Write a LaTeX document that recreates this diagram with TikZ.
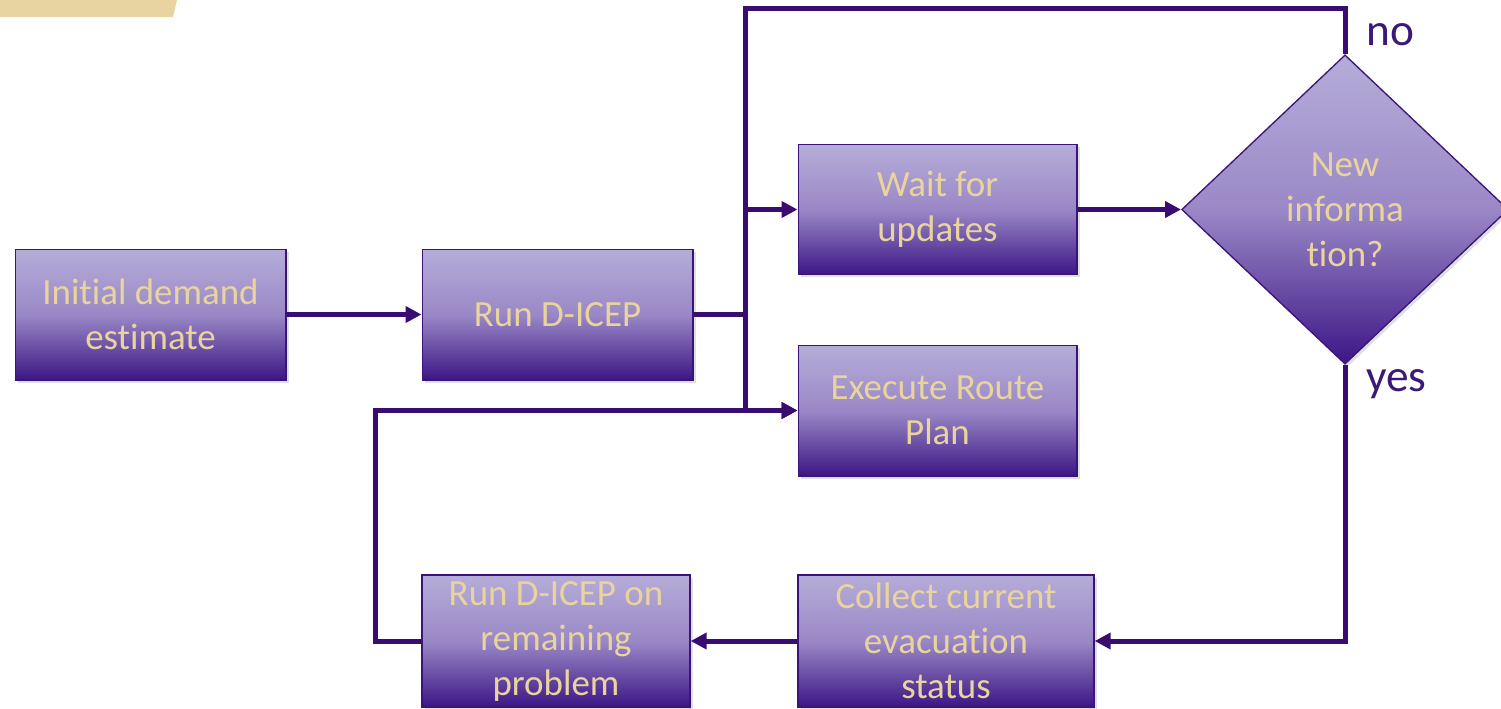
\documentclass[tikz,border=0pt]{standalone}
\usepackage{fontspec}
\setmainfont{Carlito}[RawFeature={-liga;-clig;-calt;-dlig;-rlig}]
\usetikzlibrary{shapes.geometric,arrows.meta,shadows}

\definecolor{boxtop}{HTML}{B5ADD9}
\definecolor{boxmid}{HTML}{9A88C6}
\definecolor{boxbot}{HTML}{3C1686}
\definecolor{boxline}{HTML}{3A1478}
\definecolor{flow}{HTML}{380C70}
\definecolor{gold}{HTML}{E9D49E}
\definecolor{tab}{HTML}{E8D4A0}
\definecolor{labelc}{HTML}{3A1A78}

% keep "t" and "i" as separate glyphs
\newcommand{\nolig}{\kern0pt}

\tikzset{
  stepbox/.style={draw=boxline, line width=1pt, top color=boxtop, bottom color=boxbot,
    middle color=boxmid, text=gold, align=center, inner sep=0pt,
    font=\fontsize{27.7}{33.75}\selectfont,
    drop shadow={shadow xshift=2pt, shadow yshift=-2pt, opacity=0.25}},
  decision/.style={stepbox, diamond, minimum width=245pt, minimum height=232pt},
  flowline/.style={draw=flow, line width=3.75pt},
  flowarrow/.style={flowline, -{Triangle[length=12pt,width=12pt]}},
  answer/.style={text=labelc, font=\fontsize{34}{40}\selectfont, inner sep=0pt}
}

\begin{document}
\begin{tikzpicture}[x=0.75pt, y=-0.75pt]
  \useasboundingbox (0,0) rectangle (1501,708);

  % decorative tab in the corner
  \fill[tab] (0,0) -- (177,0) -- (173,17) -- (0,17) -- cycle;

  % process steps
  \node[stepbox, minimum width=203pt, minimum height=98pt] (init) at (150.5,314.5)
    {Init\nolig ial demand\\est\nolig imate};
  \node[stepbox, minimum width=203pt, minimum height=98pt] (run) at (557.5,314.5)
    {Run D-ICEP};
  \node[stepbox, minimum width=209pt, minimum height=97.5pt] (wait) at (937.5,209.5)
    {Wait for\\updates};
  \node[stepbox, minimum width=209pt, minimum height=98pt] (exec) at (937.5,410.5)
    {Execute Route\\Plan};
  \node[decision] (dec) at (1345,209.5) {New\\informa\\t\nolig ion?};
  \node[stepbox, minimum width=222pt, minimum height=99pt] (collect) at (946,641)
    {Collect current\\evacuat\nolig ion\\status};
  \node[stepbox, minimum width=201pt, minimum height=99pt] (rem) at (556,641)
    {Run D-ICEP on\\remaining\\problem};

  % routing points
  \coordinate (trunkTop) at (745,8);
  \coordinate (trunkBot) at (745,410.5);
  \coordinate (loopCorner) at (375,410.5);

  % connectors
  \draw[flowarrow] (init.east) -- (run.west);
  \draw[flowline] (run.east) -- (run.east -| trunkTop);
  \draw[flowline] (trunkBot) -- (trunkTop) -- (trunkTop -| dec.north) -- (dec.north);
  \draw[flowarrow] (wait.west -| trunkTop) -- (wait.west);
  \draw[flowarrow] (trunkBot) -- (exec.west);
  \draw[flowarrow] (wait.east) -- (dec.west);
  \draw[flowarrow] (dec.south) |- (collect.east);
  \draw[flowarrow] (collect.west) -- (rem.east);
  \draw[flowarrow] (rem.west) -| (loopCorner) -- (exec.west);

  % branch labels
  \node[answer, anchor=west] (no) at (1366,35) {no};
  \node[answer, anchor=west] (yes) at (1366,384) {yes};
\end{tikzpicture}
\end{document}
